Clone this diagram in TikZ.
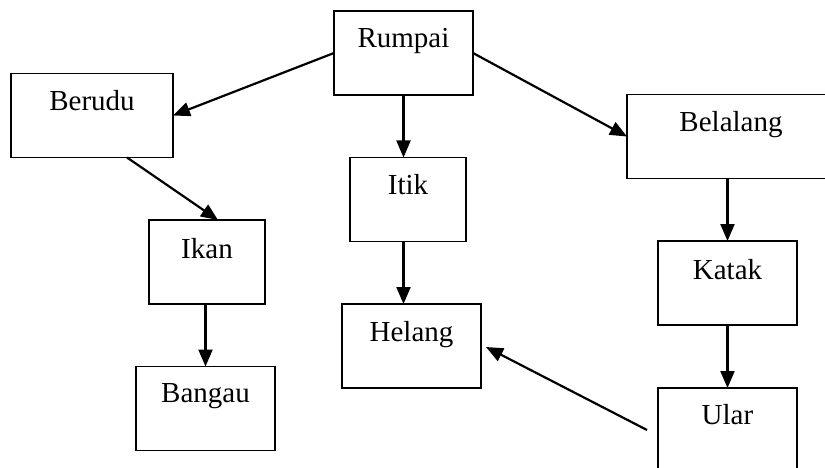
\documentclass[tikz,border=0pt]{standalone}
\usepackage{fontspec}
\setmainfont{Liberation Serif}
\usetikzlibrary{arrows.meta,calc}
\begin{document}
\begin{tikzpicture}[x=1pt,y=-1pt,
  box/.style={draw,line width=1.6pt,minimum width=#1,minimum height=84pt,inner sep=0pt,outer sep=0pt},
  box/.default=139pt,
  lbl/.style={anchor=base,inner sep=0pt,font=\fontsize{29}{34}\selectfont},
  arr/.style={line width=2.2pt,-{Triangle[length=17pt,width=14pt]}}]
\useasboundingbox (0,0) rectangle (825,468);
\clip (0,0) rectangle (825,468);
% boxes
\node[box] (rumpai) at (403.5,53) {};
\node[box=162pt] (berudu) at (92,115.5) {};
\node[box=208pt] (belalang) at (731,136.5) {};
\node[box=116pt] (itik) at (408,199.5) {};
\node[box=116pt] (ikan) at (207,262) {};
\node[box] (helang) at (411.5,346) {};
\node[box] (bangau) at (205.5,408.5) {};
\node[box] (katak) at (727.5,283) {};
\node[box] (ular) at (727.5,430) {};
% labels
\node[lbl] (trumpai) at ($(rumpai.north)+(0,37)$) {Rumpai};
\node[lbl] (tberudu) at ($(berudu.north)+(0,37)$) {Berudu};
\node[lbl] (tbelalang) at ($(belalang.north)+(0,37)$) {Belalang};
\node[lbl] (titik) at ($(itik.north)+(0,37)$) {Itik};
\node[lbl] (tikan) at ($(ikan.north)+(0,38)$) {Ikan};
\node[lbl] (thelang) at ($(helang.north)+(0,37)$) {Helang};
\node[lbl] (tbangau) at ($(bangau.north)+(0,36)$) {Bangau};
\node[lbl] (tkatak) at ($(katak.north)+(0,38)$) {Katak};
\node[lbl] (tular) at ($(ular.north)+(0,36)$) {Ular};
% arrows
\draw[arr] (rumpai.west) -- (berudu.east);
\draw[arr] (rumpai.east) -- (belalang.west);
\draw[arr] (rumpai.south) -- (rumpai.south |- itik.north);
\draw[arr] ($(berudu.south)+(35,0)$) -- ($(ikan.north)+(11,0)$);
\draw[arr] (ikan.south -| bangau.south) -- (bangau.north);
\draw[arr] (itik.south -| rumpai.south) -- (rumpai.south |- helang.north);
\draw[arr] (belalang.south -| katak.north) -- (katak.north);
\draw[arr] (katak.south) -- (ular.north);
\draw[arr] ($(ular.west)+(-11,0)$) -- ($(helang.east)+(5,1)$);
\end{tikzpicture}
\end{document}
